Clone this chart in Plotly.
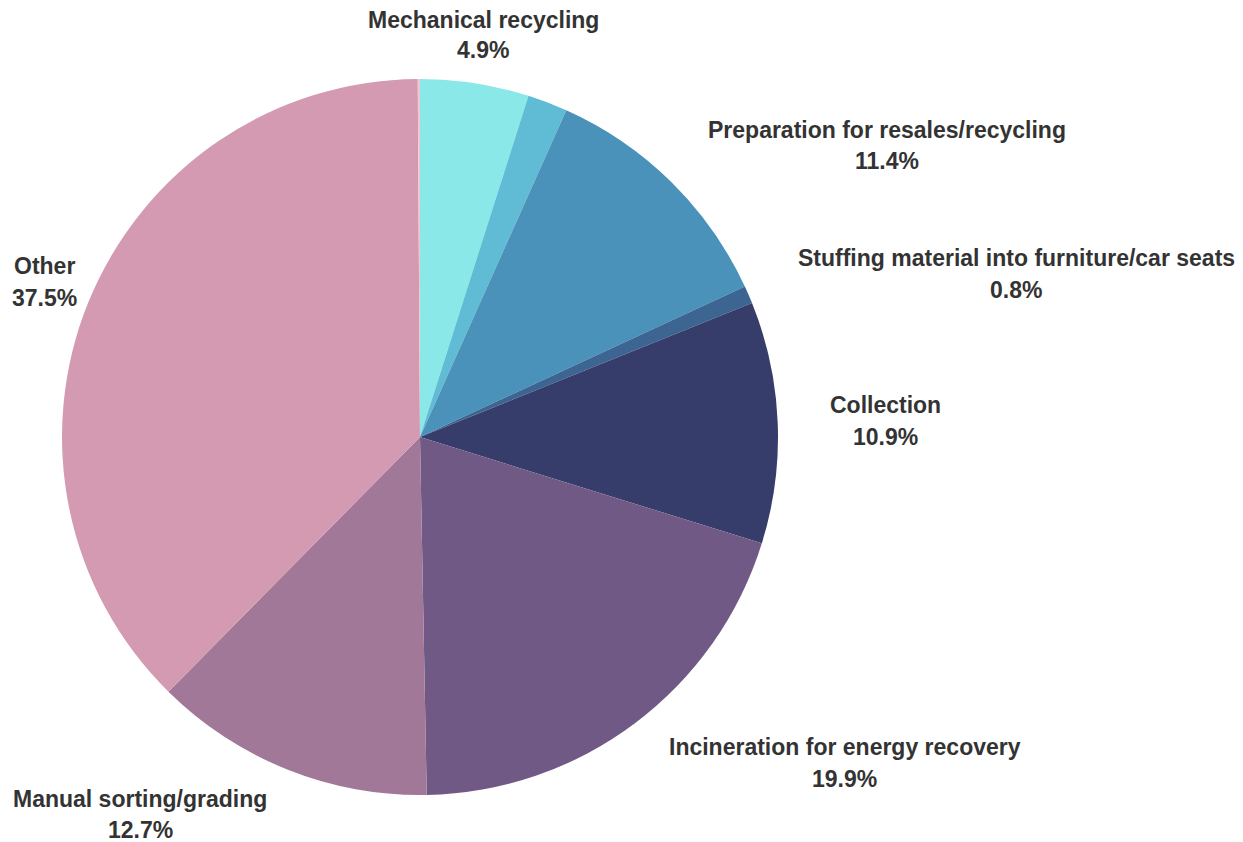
import plotly.graph_objects as go

labels = ["Mechanical recycling", "Unlabeled", "Preparation for resales/recycling",
          "Stuffing material into furniture/car seats", "Collection",
          "Incineration for energy recovery", "Manual sorting/grading", "Other", "Tiny"]
values = [4.9, 1.8, 11.4, 0.8, 10.9, 19.9, 12.7, 37.5, 0.1]
show_label = [True, False, True, True, True, True, True, True, False]
colors = ["#8ae8e8", "#60bcd4", "#4a92b9", "#3d6592", "#363d6b",
          "#715986", "#a27899", "#d49ab2", "#f1c6d4"]
# label anchor positions (pixels): x centre, y of first line, y of second line
label_px = {
    "Mechanical recycling": (483, 20, 50),
    "Preparation for resales/recycling": (887, 130, 161),
    "Stuffing material into furniture/car seats": (1016, 258, 290),
    "Collection": (885, 405, 437),
    "Incineration for energy recovery": (845, 747, 779),
    "Manual sorting/grading": (140, 799, 830),
    "Other": (44, 266, 298),
}

W, H = 1243, 842
cx, cy, r = 420, 437, 358

fig = go.Figure(go.Pie(
    labels=labels, values=values, sort=False, direction="clockwise", rotation=0,
    marker=dict(colors=colors, line=dict(width=0)),
    textinfo="none", hoverinfo="label+percent", showlegend=False,
    domain=dict(x=[(cx - r) / W, (cx + r) / W], y=[1 - (cy + r) / H, 1 - (cy - r) / H]),
))

font = dict(family="Liberation Sans, Arial, sans-serif", size=23, color="#333333")
for lab, val, show in zip(labels, values, show_label):
    if not show:
        continue
    px, py1, py2 = label_px[lab]
    for txt, py in ((lab, py1), (f"{val}%", py2)):
        fig.add_annotation(x=px / W, y=1 - py / H, xref="paper", yref="paper",
                           text=f"<b>{txt}</b>", showarrow=False,
                           xanchor="center", yanchor="middle", align="center",
                           font=font)

fig.update_layout(width=W, height=H, margin=dict(l=0, r=0, t=0, b=0),
                  paper_bgcolor="white", plot_bgcolor="white")
fig.write_html("out.html")
